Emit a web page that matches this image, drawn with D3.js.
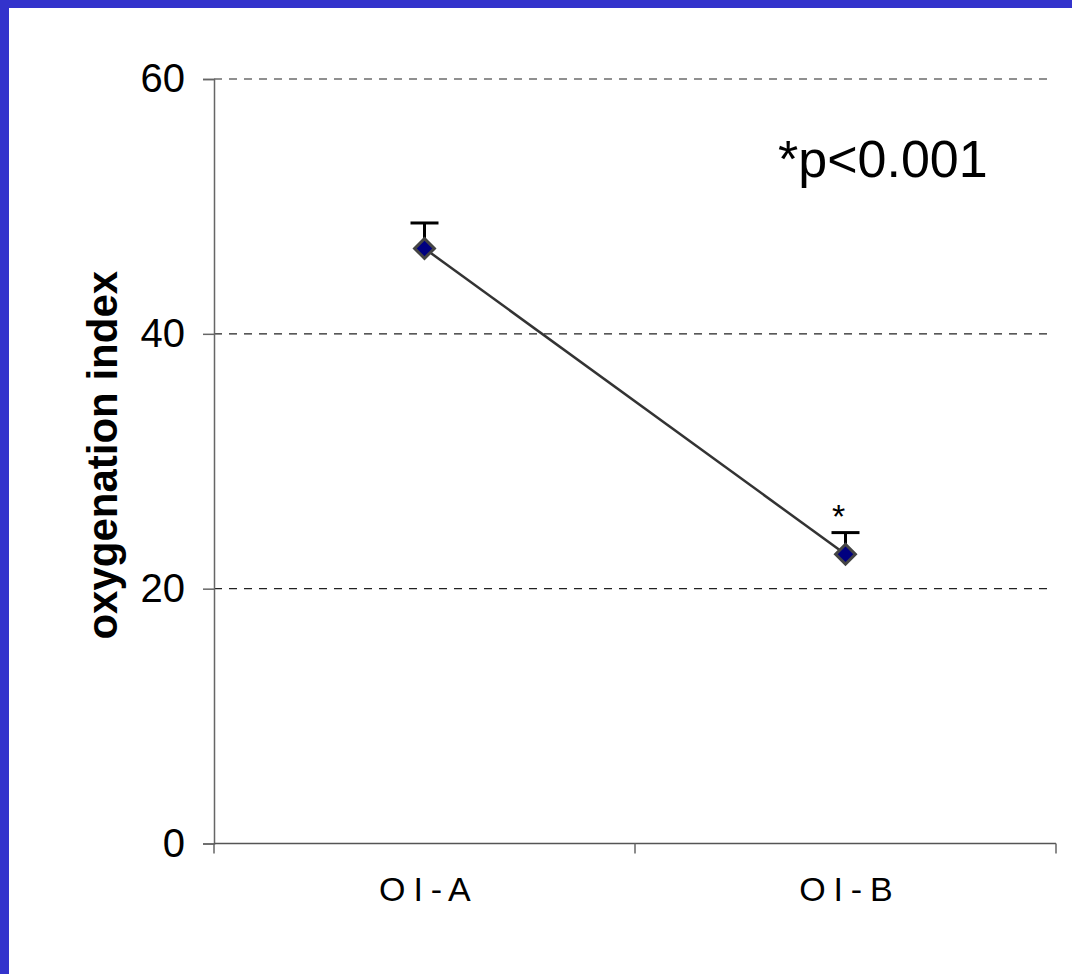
<!DOCTYPE html>
<html>
<head>
<meta charset="utf-8">
<script src="https://cdn.jsdelivr.net/npm/d3@7"></script>
<style>
  html, body { margin: 0; padding: 0; background: #3333cc; }
  svg { display: block; }
</style>
</head>
<body>
<script>
// Oxygenation index before and after treatment (mean with upper error bar)
const categories = ["O I - A", "O I - B"];
const means = [46.7, 22.7];
const errorUpper = [2.0, 1.7];
const yTicks = [0, 20, 40, 60];
const pNote = "*p<0.001";
const yTitle = "oxygenation index";

const W = 1072, H = 974;
const FONT = "Arial, 'Liberation Sans', sans-serif";
const svg = d3.select("body").append("svg").attr("width", W).attr("height", H);

// white panel inside the blue frame
svg.append("rect").attr("x", 9).attr("y", 8).attr("width", W - 9).attr("height", H - 8).attr("fill", "#fff");

const plotLeft = 214, plotRight = 1056, plotTop = 79, plotBottom = 843.5;
const y = d3.scaleLinear().domain([0, 60]).range([plotBottom, plotTop]);
const xBand = d3.scaleBand().domain(categories).range([plotLeft, plotRight]).padding(0);
const xc = d => xBand(d) + xBand.bandwidth() / 2;

// dashed gridlines
svg.append("g").selectAll("line").data(yTicks.filter(t => t > 0)).join("line")
  .attr("x1", plotLeft).attr("x2", plotRight - 3)
  .attr("y1", d => y(d)).attr("y2", d => y(d))
  .attr("stroke", "#222").attr("stroke-width", 1.2)
  .attr("stroke-dasharray", "8,7");

// y axis
const yAxis = svg.append("g").attr("transform", `translate(${plotLeft},0)`)
  .call(d3.axisLeft(y).tickValues(yTicks).tickSize(11).tickPadding(18));
yAxis.select(".domain").attr("stroke", "#666").attr("stroke-width", 1.5);
yAxis.selectAll(".tick line").attr("stroke", "#666").attr("stroke-width", 1.5);
yAxis.selectAll(".tick text").attr("font-family", FONT)
  .attr("font-size", 40).attr("fill", "#000");

// x axis with ticks at band boundaries
const xAxisG = svg.append("g");
xAxisG.append("line").attr("x1", plotLeft).attr("x2", plotRight).attr("y1", plotBottom).attr("y2", plotBottom)
  .attr("stroke", "#555").attr("stroke-width", 1.5);
const bounds = categories.map(c => xBand(c)).concat([plotRight]);
xAxisG.selectAll("line.tk").data(bounds).join("line").attr("class", "tk")
  .attr("x1", d => d).attr("x2", d => d).attr("y1", plotBottom).attr("y2", plotBottom + 10)
  .attr("stroke", "#666").attr("stroke-width", 1.5);
xAxisG.selectAll("text").data(categories).join("text")
  .attr("x", d => xc(d)).attr("y", 901)
  .attr("text-anchor", "middle")
  .attr("font-family", FONT).attr("font-size", 34)
  .attr("letter-spacing", "-0.8px")
  .attr("fill", "#000").text(d => d);

// y title
svg.append("text")
  .attr("transform", `translate(117,${(plotTop + plotBottom) / 2 - 6}) rotate(-90)`)
  .attr("text-anchor", "middle")
  .attr("font-family", FONT)
  .attr("font-weight", "bold").attr("font-size", 42).attr("fill", "#000")
  .text(yTitle);

const pts = categories.map((c, i) => ({ c, v: means[i], e: errorUpper[i] }));

// error bars (upper only)
const eb = svg.append("g");
eb.selectAll("line.v").data(pts).join("line").attr("class", "v")
  .attr("x1", d => xc(d.c)).attr("x2", d => xc(d.c))
  .attr("y1", d => y(d.v)).attr("y2", d => y(d.v + d.e))
  .attr("stroke", "#000").attr("stroke-width", 3);
eb.selectAll("line.h").data(pts).join("line").attr("class", "h")
  .attr("x1", d => xc(d.c) - 14).attr("x2", d => xc(d.c) + 14)
  .attr("y1", d => y(d.v + d.e)).attr("y2", d => y(d.v + d.e))
  .attr("stroke", "#000").attr("stroke-width", 3);

// connecting line
svg.append("path").datum(pts)
  .attr("d", d3.line().x(d => xc(d.c)).y(d => y(d.v)))
  .attr("fill", "none").attr("stroke", "#333").attr("stroke-width", 2.5);

// diamond markers
svg.append("g").selectAll("path").data(pts).join("path")
  .attr("transform", d => `translate(${xc(d.c)},${y(d.v)}) rotate(45)`)
  .attr("d", "M-7,-7H7V7H-7Z")
  .attr("fill", "#000080").attr("stroke", "#444").attr("stroke-width", 3);

// significance star above second point
svg.append("text")
  .attr("x", xc(categories[1]) - 7).attr("y", y(means[1] + errorUpper[1]) - 5)
  .attr("text-anchor", "middle")
  .attr("font-family", FONT).attr("font-size", 34)
  .text("*");

// p-value note
svg.append("text")
  .attr("x", 778).attr("y", 177)
  .attr("font-family", FONT).attr("font-size", 52)
  .attr("fill", "#000").text(pNote);
</script>
</body>
</html>
